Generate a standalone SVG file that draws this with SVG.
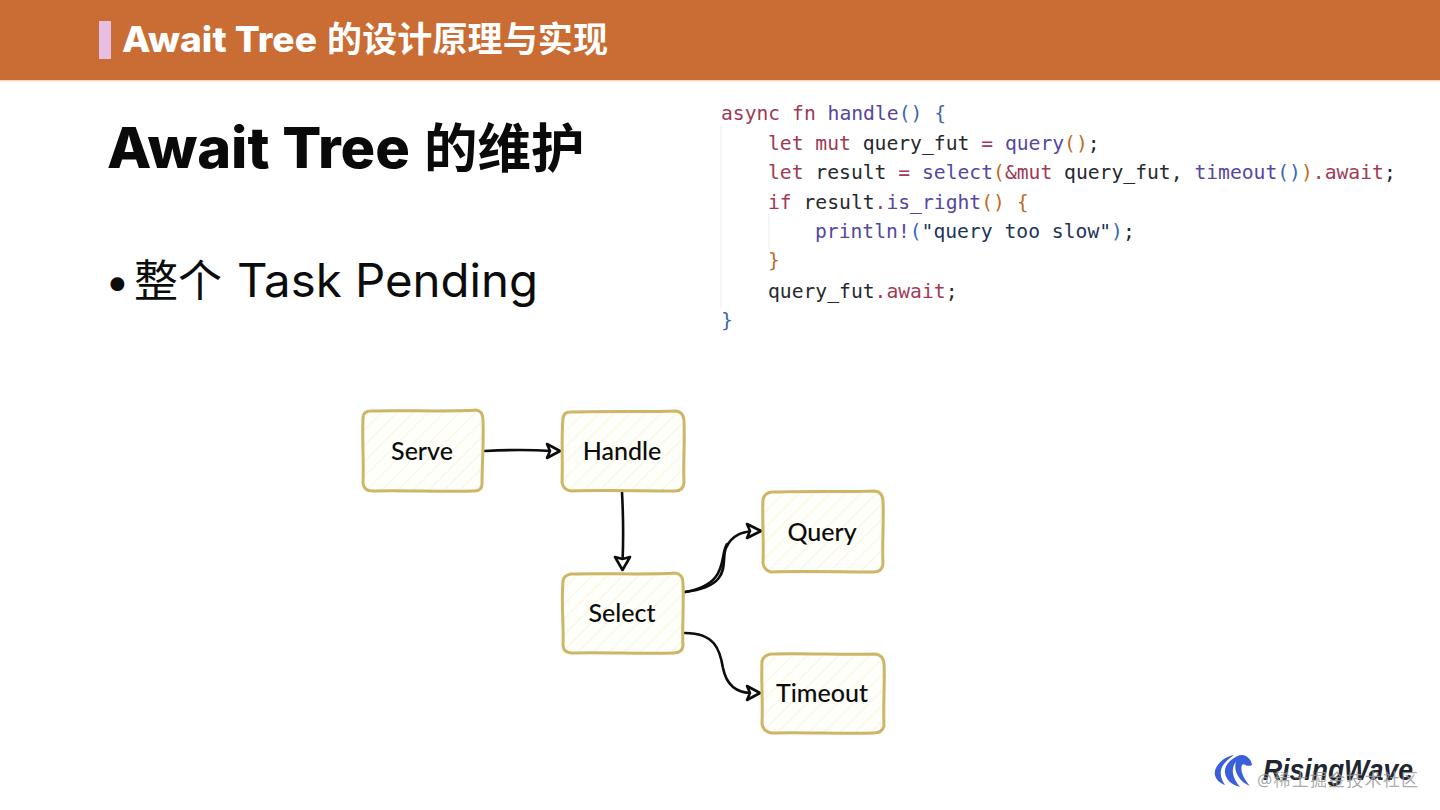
<svg xmlns="http://www.w3.org/2000/svg" width="1440" height="810" viewBox="0 0 1440 810">
<style>
.code{font-family:"DejaVu Sans Mono","Liberation Mono",monospace;font-size:19.68px;fill:#25282e}
.k{fill:#a13a55}.f{fill:#54489f}.b{fill:#3a68b0}.p{fill:#c06a24}.n{fill:#1c3557}
.box{fill:none;stroke:#cfb566;stroke-width:3;stroke-linejoin:round}
.lbl{font-family:"Lato","Noto Sans",sans-serif;font-size:25px;fill:#0c0c0c;text-anchor:middle;font-weight:500}
.con{fill:none;stroke:#0c0c0c;stroke-width:2.6;stroke-linecap:round;stroke-linejoin:round}
.head{fill:#fff;stroke:#0c0c0c;stroke-width:2.6;stroke-linejoin:round}
.guide{stroke:#f2f2f2;stroke-width:1.5}
.sans{font-family:Inter,"Noto Sans CJK SC",sans-serif}
.cjk{font-family:"Noto Sans CJK SC",sans-serif}
</style>
<defs>
<pattern id="hatch" width="11" height="11" patternUnits="userSpaceOnUse" patternTransform="rotate(45)">
<rect width="11" height="11" fill="#fefefa"/>
<rect width="1.2" height="11" fill="#f9f6e0"/>
</pattern>
</defs>
<rect width="1440" height="810" fill="#fff"/>
<rect width="1440" height="80" fill="#c96d34"/>
<rect x="0" y="80" width="1440" height="1.5" fill="#f6d9c4"/>
<rect x="99" y="21" width="12" height="38" fill="#e6bfe2"/>
<text class="sans" x="122" y="52" font-weight="800" font-size="35" fill="#fff" textLength="195" lengthAdjust="spacingAndGlyphs">Await Tree</text>
<text class="cjk" x="327" y="52" font-weight="700" font-size="35" fill="#fff" textLength="281" lengthAdjust="spacing">的设计原理与实现</text>
<text class="sans" x="107" y="168" font-weight="800" font-size="56" fill="#0a0a0a" textLength="303" lengthAdjust="spacingAndGlyphs">Await Tree</text>
<text class="cjk" x="424" y="168" font-weight="700" font-size="53.500" fill="#0a0a0a">的维护</text>
<text class="sans" x="105" y="297" font-size="44" fill="#0c0c0c">•</text>
<text class="cjk" x="134" y="297" font-size="44" fill="#0c0c0c">整个</text>
<text class="sans" x="237" y="297" font-size="46" fill="#0c0c0c" textLength="301" lengthAdjust="spacingAndGlyphs">Task Pending</text>

<g id="code">
<line class="guide" x1="721" y1="126" x2="721" y2="308"/>
<line class="guide" x1="769" y1="214" x2="769" y2="250"/>
<text class="code" x="721" y="119.500"><tspan class="k">async fn</tspan> <tspan class="f">handle</tspan><tspan class="b">()</tspan> <tspan class="b">{</tspan></text>
<text class="code" x="768" y="149.500"><tspan class="k">let mut</tspan> query_fut <tspan class="k">=</tspan> <tspan class="f">query</tspan><tspan class="p">()</tspan>;</text>
<text class="code" x="768" y="178.500"><tspan class="k">let</tspan> result <tspan class="k">=</tspan> <tspan class="f">select</tspan><tspan class="p">(</tspan><tspan class="k">&amp;mut</tspan> query_fut, <tspan class="f">timeout</tspan><tspan class="b">()</tspan><tspan class="p">)</tspan><tspan class="k">.await</tspan>;</text>
<text class="code" x="768" y="208.500"><tspan class="k">if</tspan> result<tspan class="k">.</tspan><tspan class="f">is_right</tspan><tspan class="p">()</tspan> <tspan class="p">{</tspan></text>
<text class="code" x="815" y="237.500"><tspan class="f">println!</tspan><tspan class="b">(</tspan><tspan class="n">"query too slow"</tspan><tspan class="b">)</tspan>;</text>
<text class="code" x="768" y="266.500"><tspan class="p">}</tspan></text>
<text class="code" x="768" y="297.500">query_fut<tspan class="k">.await</tspan>;</text>
<text class="code" x="721" y="326.500"><tspan class="b">}</tspan></text>
</g>

<g id="connectors">
<path class="con" d="M485 451Q520 449 552 451"/>
<path class="head" d="M547 444L560 451L547 458L550 451Z"/>
<path class="con" d="M622 492Q624 530 622.500 562"/>
<path class="head" d="M615 557L622.500 570L630 557L622.500 559Z"/>
<path class="con" d="M685 592C735 586 720 560 726 548C732 534 744 532 752 531"/>
<path class="con" d="M685 592C730 584 719 556 727 544"/>
<path class="head" d="M747 524L761 531L747 538L750 531Z"/>
<path class="con" d="M685 633C715 633 720 650 723 668C727 688 740 693 752 693"/>
<path class="head" d="M747 686L760 693L747 700L750 693Z"/>
</g>

<g id="node-serve">
<path d="M372 411H475Q483 411 483 419V483Q483 491 475 491H372Q364 491 364 483V419Q364 411 372 411Z" fill="url(#hatch)"/>
<path class="box" d="M371 411C400 410 450 412 476 410Q483 411 483 420C484 440 482 465 482 484Q482 491 474 491C440 492 400 490 372 491Q364 491 363 483C364 460 362 440 363 418Q363 411 371 411Z"/>
<text class="lbl" x="422" y="460">Serve</text>
</g>
<g id="node-handle">
<path d="M572 411H675Q684 411 684 419V483Q684 491 675 491H572Q563 491 563 483V419Q563 411 572 411Z" fill="url(#hatch)"/>
<path class="box" d="M570 412C600 411 650 412 676 411Q683 412 684 420C685 440 683 465 684 483Q683 491 675 491C640 491 600 490 571 491Q563 490 562 482C563 460 561 440 563 418Q564 412 570 412Z"/>
<text class="lbl" x="622" y="460">Handle</text>
</g>
<g id="node-select">
<path d="M572 574H675Q683 574 683 582V645Q683 653 675 653H572Q563 653 563 645V582Q563 574 572 574Z" fill="url(#hatch)"/>
<path class="box" d="M571 574C600 573 650 575 675 573Q683 574 683 583C684 605 682 625 683 646Q682 653 674 653C640 654 600 652 571 653Q563 652 563 645C564 625 561 605 563 581Q564 575 571 574Z"/>
<text class="lbl" x="622" y="622">Select</text>
</g>
<g id="node-query">
<path d="M772 492H875Q883 492 883 500V564Q883 572 875 572H772Q763 572 763 564V500Q763 492 772 492Z" fill="url(#hatch)"/>
<path class="box" d="M772 492C800 491 850 492 875 491Q882 492 883 500C884 520 882 545 883 564Q882 572 874 572C840 572 800 571 771 572Q764 570 763 563C764 540 762 520 763 500Q764 493 772 492Z"/>
<text class="lbl" x="822" y="541">Query</text>
</g>
<g id="node-timeout">
<path d="M772 654H875Q884 654 884 662V725Q884 733 875 733H772Q763 733 763 725V662Q763 654 772 654Z" fill="url(#hatch)"/>
<path class="box" d="M771 654C800 653 850 655 875 654Q883 655 884 663C885 685 883 705 884 726Q882 733 874 733C840 734 800 732 771 733Q763 731 762 724C763 700 761 680 762 661Q764 655 771 654Z"/>
<text class="lbl" x="822" y="702">Timeout</text>
</g>

<g id="logo">
<path fill="#3a5fd9" d="M1234 755C1222 757 1213 768 1215 775C1216 780 1220 783 1225 785C1220 778 1219 770 1224 764C1227 760 1231 757 1234 755Z"/>
<path fill="#3a5fd9" d="M1241 755C1230 758 1224 766 1225 773C1226 780 1232 785 1240 787C1234 780 1231 772 1234 765C1236 761 1239 758 1241 755Z"/>
<path fill="#3a5fd9" d="M1252 765C1251 757 1243 753 1238 756C1236 760 1233 768 1238 776C1241 781 1245 784 1250 786C1243 778 1240 770 1242 765C1244 762 1246 768 1252 765Z"/>
<text x="1263" y="780" font-family="'Liberation Sans',sans-serif" font-weight="700" font-style="italic" font-size="29" fill="#20262f" textLength="150" lengthAdjust="spacingAndGlyphs">RisingWave</text>
<text x="1257" y="786" font-family="'Noto Sans','Noto Sans CJK SC',sans-serif" font-size="17" fill="#9a9a9a" fill-opacity="0.85" textLength="161">@稀土掘金技术社区</text>
</g>
</svg>
